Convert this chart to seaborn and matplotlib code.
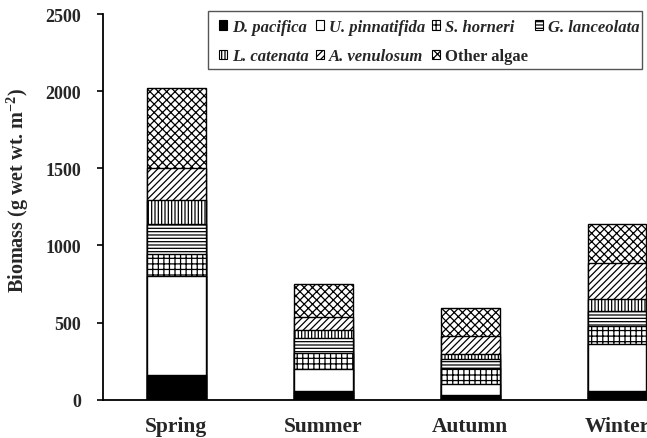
import matplotlib
matplotlib.use("Agg")
import matplotlib.pyplot as plt
import seaborn as sns
import numpy as np
import pandas as pd
from matplotlib.patches import Patch, Rectangle

seasons = ["Spring", "Summer", "Autumn", "Winter"]
species = ["D. pacifica", "U. pinnatifida", "S. horneri", "G. lanceolata",
           "L. catenata", "A. venulosum", "Other algae"]
d_pacifica    = [157, 54, 33, 54]
u_pinnatifida = [648, 148, 71, 305]
s_horneri     = [137, 103, 103, 119]
g_lanceolata  = [200, 97, 58, 94]
l_catenata    = [153, 48, 29, 81]
a_venulosum   = [210, 83, 119, 233]
other_algae   = [515, 217, 181, 256]
yticks = [0, 500, 1000, 1500, 2000, 2500]

series = [d_pacifica, u_pinnatifida, s_horneri, g_lanceolata,
          l_catenata, a_venulosum, other_algae]
fills = ["black", "white", "white", "white", "white", "white", "white"]
hatches = [None, None, "+++", "-----", "|||||", "/////", "xxxx"]

sns.set_theme(style="white")
plt.rcParams["font.family"] = ["Liberation Serif", "DejaVu Serif"]
plt.rcParams["font.weight"] = "bold"
plt.rcParams["hatch.linewidth"] = 0.9
plt.rcParams["hatch.color"] = "black"

W, H = 647, 439
fig = plt.figure(figsize=(W/100, H/100), dpi=100)
ax = fig.add_axes([103/W, 38.3/H, (690.5-103)/W, 385.7/H])

cum = np.cumsum(np.array(series), axis=0)
for i in range(len(series) - 1, -1, -1):
    df = pd.DataFrame({"season": seasons, "value": cum[i]})
    sns.barplot(data=df, x="season", y="value", ax=ax, color=fills[i],
                width=0.4, edgecolor="black", linewidth=1.0,
                hatch=hatches[i], saturation=1, errorbar=None, zorder=2)

ax.set_xlim(-0.5, 3.5)
ax.set_ylim(0, 2500)
ax.set_yticks(yticks)
ax.set_yticklabels([str(t) for t in yticks], fontsize=13, fontweight="bold")
ax.tick_params(axis="y", direction="out", length=4, width=1.2, color="black",
               pad=12, left=True)
ax.tick_params(axis="x", length=0, pad=12, labelsize=15.5)
for lab in ax.get_xticklabels():
    lab.set_fontweight("bold")
ax.set_xlabel("")
ax.set_ylabel(r"Biomass (g wet wt. m$^{\mathregular{-2}}$)", fontsize=14.5,
              fontweight="bold")
ax.yaxis.label.set_va("center")
ax.yaxis.set_label_coords(-0.146, 0.546)

for s in ["top", "right"]:
    ax.spines[s].set_visible(False)
for s in ["left", "bottom"]:
    ax.spines[s].set_color("black")
    ax.spines[s].set_linewidth(1.3)

handles = [Patch(facecolor=fills[i], edgecolor="black", hatch=hatches[i],
                 linewidth=0.8, label=species[i]) for i in range(len(species))]
order = [0, 4, 1, 5, 2, 6, 3]
leg = ax.legend([handles[i] for i in order], [species[i] for i in order],
                ncol=4, loc="upper left",
                bbox_to_anchor=(219/W, 1 - 20/H), bbox_transform=fig.transFigure,
                borderaxespad=0, borderpad=0, frameon=False,
                handlelength=0.5, handleheight=0.5, handletextpad=0.3,
                columnspacing=0.4, labelspacing=0.80, fontsize=12)
for t in leg.get_texts():
    t.set_fontweight("bold")
    if t.get_text() != "Other algae":
        t.set_fontstyle("italic")

fig.patches.append(Rectangle((208/W, 1 - 70/H), (642-208)/W, (70-12)/H,
                             transform=fig.transFigure, fill=False,
                             edgecolor="#555555", linewidth=1.0, zorder=5))

fig.savefig("out.png", dpi=100)
